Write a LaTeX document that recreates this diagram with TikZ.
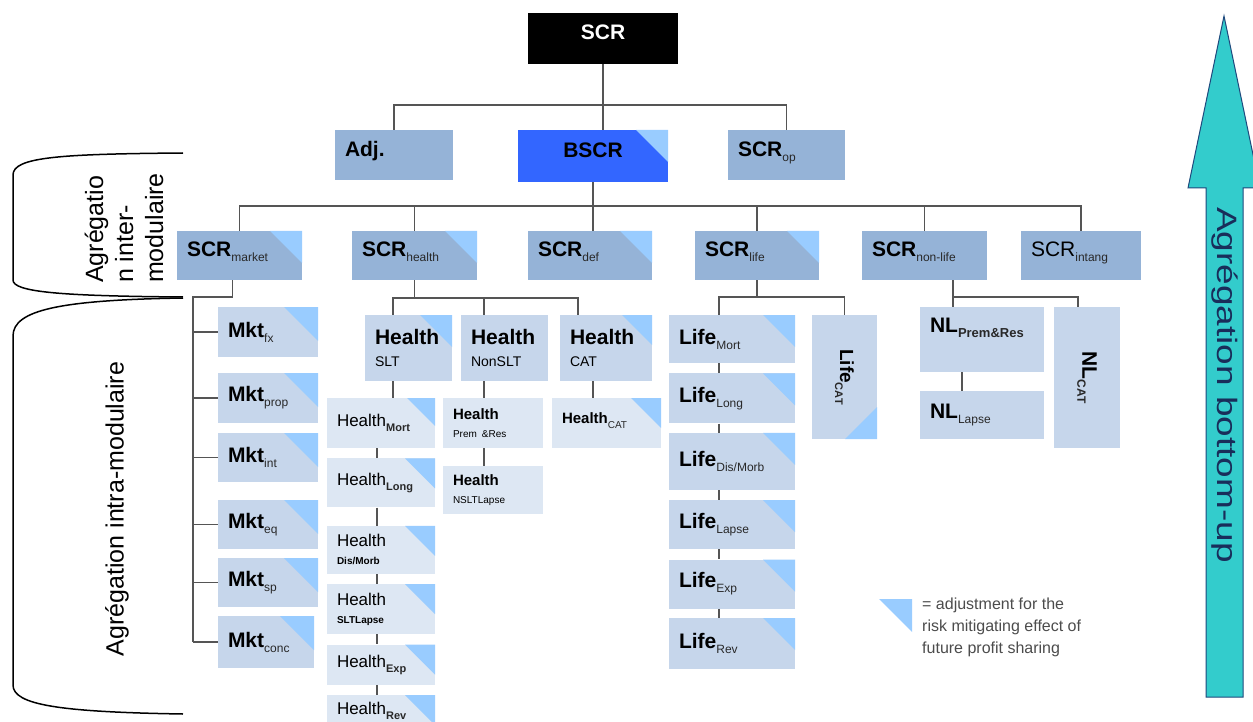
\documentclass[tikz,border=0pt]{standalone}
\usepackage{fontspec}
\setmainfont{Liberation Sans}
\usepackage{tikz}
\usetikzlibrary{positioning}

\definecolor{scrblue}{RGB}{149,179,215}
\definecolor{cellblue}{RGB}{198,214,235}
\definecolor{paleblue}{RGB}{221,231,243}
\definecolor{bscrblue}{RGB}{51,102,255}
\definecolor{fpsblue}{RGB}{153,204,255}
\definecolor{wiregray}{RGB}{85,85,85}
\definecolor{arrowteal}{RGB}{51,204,204}
\definecolor{arrowedge}{RGB}{31,73,125}
\definecolor{arrowtext}{RGB}{25,45,90}
\definecolor{subgray}{RGB}{40,40,40}

\newcommand{\subtx}[2][12]{\raisebox{-5pt}{\fontsize{#1}{#1}\selectfont\color{subgray}#2}}

\begin{document}
\begin{tikzpicture}[x=1pt, y=-1pt, node distance=10pt and 10pt,
    cell/.style={rectangle, inner xsep=10pt, inner ysep=0pt, align=left, font=\fontsize{21}{22}\selectfont},
    dims/.style 2 args={text width=#1pt, minimum height=#2pt},
    scrcell/.style={cell, fill=scrblue, text depth=12pt},
    memo/.style={cell, fill=cellblue},
    subcell/.style={cell, fill=paleblue, font=\fontsize{17}{18}\selectfont},
    notecell/.style={cell, fill=paleblue, font=\fontsize{15}{18}\selectfont},
    fps/.style={path picture={\fill[fpsblue] ([xshift=-#1pt]path picture bounding box.north east)
        -- (path picture bounding box.north east) -- ([yshift=-#1pt]path picture bounding box.north east) -- cycle;}},
    fps/.default=32,
    fpslow/.style={path picture={\fill[fpsblue] ([xshift=-32pt]path picture bounding box.south east)
        -- (path picture bounding box.south east) -- ([yshift=32pt]path picture bounding box.south east) -- cycle;}},
    wire/.style={line width=1.3pt, draw=wiregray},
    sidecurve/.style={line width=1.5pt, draw=black},
    sidetext/.style={rotate=90, font=\fontsize{25}{30}\selectfont},
   ]

    \path[use as bounding box, fill=white] (0,0) rectangle (1253,722);

    % top of the tree
    \node (scr)   [cell, fill=black, text=white, align=center, text depth=12pt, dims={130}{51}] at (603,38.5) {\textbf{SCR}};
    \node (adj)   [scrcell, dims={98}{50}] at (394,155) {\textbf{Adj.}};
    \node (bscr)  [cell, fill=bscrblue, fps, align=center, text depth=11pt, dims={130}{52}] at (593,156) {\textbf{BSCR}};
    \node (scrop) [scrcell, dims={97}{50}] at (786.5,155) {\textbf{SCR}\subtx{op}};

    % modules
    \node (scrmarket)  [scrcell, fps, dims={105}{49}] at (239.5,255.5) {\textbf{SCR}\subtx{market}};
    \node (scrhealth)  [scrcell, fps, dims={105}{49}] at (414.5,255.5) {\textbf{SCR}\subtx{health}};
    \node (scrdef)     [scrcell, fps, dims={104}{49}] at (590,255.5) {\textbf{SCR}\subtx{def}};
    \node (scrlife)    [scrcell, fps, dims={104}{49}] at (757,255.5) {\textbf{SCR}\subtx{life}};
    \node (scrnonlife) [scrcell, dims={105}{49}] at (924.5,255.5) {\textbf{SCR}\subtx{non-life}};
    \node (scrintang)  [scrcell, dims={100}{49}] at (1081,255.5) {SCR\subtx{intang}};

    % market
    \node (mktfx)   [memo, fps=34, dims={80}{50}] at (268,332) {\textbf{Mkt}\subtx{fx}};
    \node (mktprop) [memo, fps=34, dims={80}{50}] at (268,398) {\textbf{Mkt}\subtx{prop}};
    \node (mktint)  [memo, fps=34, dims={80}{49}] at (268,457.5) {\textbf{Mkt}\subtx{int}};
    \node (mkteq)   [memo, fps=34, dims={80}{49}] at (268,524.5) {\textbf{Mkt}\subtx{eq}};
    \node (mktsp)   [memo, fps=34, dims={80}{49}] at (268,582.5) {\textbf{Mkt}\subtx{sp}};
    \node (mktconc) [memo, fps=34, dims={76}{52}] at (266,642) {\textbf{Mkt}\subtx{conc}};

    % health
    \node (hslt)  [memo, fps, dims={67}{66}] at (408.5,348) {\textbf{Health}\\{\fontsize{14}{14}\selectfont SLT}};
    \node (hnslt) [memo, dims={67}{66}] at (504.5,348) {\textbf{Health}\\{\fontsize{14}{14}\selectfont NonSLT}};
    \node (hcat)  [memo, fps=30, dims={72}{66}] at (606,348) {\textbf{Health}\\{\fontsize{14}{14}\selectfont CAT}};

    \node (hmort)  [subcell, fps=28, dims={88}{50}] at (381,423) {Health\subtx[11]{\textbf{Mort}}};
    \node (hlong)  [subcell, fps=30, dims={88}{49}, below=of hmort] {Health\subtx[11]{\textbf{Long}}};
    \node (hdis)   [subcell, fps=30, dims={88}{48}, below=18pt of hlong] {Health\\{\fontsize{10}{10}\selectfont\textbf{Dis/Morb}}};
    \node (hlapse) [subcell, fps=30, dims={88}{50}, below=of hdis] {Health\\{\fontsize{10}{10}\selectfont\textbf{SLTLapse}}};
    \node (hexp)   [subcell, fps=30, dims={88}{40}, below=of hlapse] {Health\subtx[11]{\textbf{Exp}}};
    \node (hrev)   [subcell, fps=30, dims={88}{40}, text depth=13pt, below=of hexp] {Health\subtx[11]{\textbf{Rev}}};

    \node (hprem)   [notecell, dims={80}{50}] at (493,423) {\textbf{Health}\\{\fontsize{10}{10}\selectfont Prem \&Res}};
    \node (hnlapse) [notecell, dims={80}{48}] at (493,490) {\textbf{Health}\\{\fontsize{10}{10}\selectfont NSLTLapse}};
    \node (hcatsub) [notecell, fps=30, text depth=10pt, dims={89}{50}] at (606.5,423) {\textbf{Health}\subtx[10]{CAT}};

    % life
    \node (lmort)  [memo, fps, dims={106}{48}] at (732,339) {\textbf{Life}\subtx{Mort}};
    \node (llong)  [memo, fps, dims={106}{50}, below=of lmort] {\textbf{Life}\subtx{Long}};
    \node (ldis)   [memo, fps, dims={106}{57}, below=9pt of llong] {\textbf{Life}\subtx{Dis/Morb}};
    \node (llapse) [memo, fps, dims={106}{49}, below=of ldis] {\textbf{Life}\subtx{Lapse}};
    \node (lexp)   [memo, fps, dims={106}{49}, below=of llapse] {\textbf{Life}\subtx{Exp}};
    \node (lrev)   [memo, fps, dims={106}{51}, below=9pt of lexp] {\textbf{Life}\subtx{Rev}};
    \node (lcat)   [memo, fpslow, align=center, font=\fontsize{19}{20}\selectfont, dims={45}{124}] at (844.5,377) {\rotatebox{-90}{\textbf{Life}\subtx[11]{\textbf{CAT}}}};

    % non-life
    \node (nlprem)  [memo, dims={104}{65}, text depth=28pt] at (982,339.5) {\textbf{NL}\subtx[13]{\textbf{Prem\&Res}}};
    \node (nllapse) [memo, dims={104}{48}] at (982,415) {\textbf{NL}\subtx{Lapse}};
    \node (nlcat)   [memo, align=center, dims={46}{141}] at (1087,377.5) {\rotatebox{-90}{\textbf{NL}\subtx{\textbf{CAT}}}};

    % connectors
    \coordinate (bus1) at (603,105);
    \coordinate (bus2) at (593,206);
    \coordinate (mktbus) at (193,297);
    \coordinate (hbus) at (414.5,298);
    \coordinate (lbus) at (757,297);
    \coordinate (nlbus) at (953,297);

    \draw[wire] (scr.south) -- (scr.south |- bscr.north);
    \draw[wire] (adj.north) |- (bus1) -| (scrop.north);
    \draw[wire] (bscr.south) -- (bscr.south |- scrdef.north);
    \draw[wire] (scrmarket.north) |- (bus2) -| (scrintang.north);
    \draw[wire] (scrhealth.north) -- (scrhealth.north |- bus2)
                (scrlife.north) -- (scrlife.north |- bus2)
                (scrnonlife.north) -- (scrnonlife.north |- bus2);

    \draw[wire] ([xshift=-7pt]scrmarket.south) |- (mktbus) -- (mktbus |- mktconc.west);
    \draw[wire] (mktbus |- mktfx.west) -- (mktfx.west)
                (mktbus |- mktprop.west) -- (mktprop.west)
                (mktbus |- mktint.west) -- (mktint.west)
                (mktbus |- mkteq.west) -- (mkteq.west)
                (mktbus |- mktsp.west) -- (mktsp.west)
                (mktbus |- mktconc.west) -- (mktconc.west);

    \draw[wire] (scrhealth.south) -- (hbus);
    \draw[wire] ([xshift=-15.5pt]hslt.north) |- (hbus) -| ([xshift=-28pt]hcat.north);
    \draw[wire] ([xshift=-20.5pt]hnslt.north) -- ([xshift=-20.5pt]hnslt.north |- hbus);
    \draw[wire] ([xshift=-15.5pt]hslt.south) -- ([xshift=-15.5pt]hslt.south |- hmort.north);
    \draw[wire] ([xshift=-4pt]hmort.south) -- ([xshift=-4pt]hlong.north)
                ([xshift=-4pt]hlong.south) -- ([xshift=-4pt]hdis.north)
                ([xshift=-4pt]hdis.south) -- ([xshift=-4pt]hlapse.north)
                ([xshift=-4pt]hlapse.south) -- ([xshift=-4pt]hexp.north)
                ([xshift=-4pt]hexp.south) -- ([xshift=-4pt]hrev.north);
    \draw[wire] ([xshift=-20.5pt]hnslt.south) -- ([xshift=-20.5pt]hnslt.south |- hprem.north);
    \draw[wire] ([xshift=-9pt]hprem.south) -- ([xshift=-9pt]hnlapse.north);
    \draw[wire] ([xshift=-13pt]hcat.south) -- ([xshift=-13pt]hcat.south |- hcatsub.north);

    \draw[wire] (scrlife.south) -- (lbus);
    \draw[wire] ([xshift=-13pt]lmort.north) |- (lbus) -| (lcat.north);
    \draw[wire] ([xshift=-13pt]lmort.south) -- ([xshift=-13pt]llong.north)
                ([xshift=-13pt]llong.south) -- ([xshift=-13pt]ldis.north)
                ([xshift=-13pt]ldis.south) -- ([xshift=-13pt]llapse.north)
                ([xshift=-13pt]llapse.south) -- ([xshift=-13pt]lexp.north)
                ([xshift=-13pt]lexp.south) -- ([xshift=-13pt]lrev.north);

    \draw[wire] ([xshift=28.5pt]scrnonlife.south) -- ([xshift=-29pt]nlprem.north);
    \draw[wire] (nlbus) -| ([xshift=-9pt]nlcat.north);
    \draw[wire] ([xshift=-20pt]nlprem.south) -- ([xshift=-20pt]nllapse.north);

    % side curves and their texts
    \draw[sidecurve] (183,153) .. controls (60,154) and (13,157) .. (13,175) -- (13,280)
                     .. controls (13,292) and (60,296) .. (183,297);
    \draw[sidecurve] (183,298) .. controls (60,300) and (13,310) .. (13,336) -- (13,685)
                     .. controls (13,705) and (60,712) .. (183,714);
    \node (intertxt) [sidetext, align=left] at (124,228) {Agrégatio\\n inter-\\modulaire};
    \node (intratxt) [sidetext] at (117,509) {Agrégation intra-modulaire};

    % legend
    \fill[fpsblue] (879,599) -- (912,599) -- (912,632) -- cycle;
    \node (legend) [anchor=north west, inner sep=0pt, align=left, text=black!70,
                    font=\fontsize{16}{22}\selectfont] at (922,598) {= adjustment for the\\risk mitigating effect of\\future profit sharing};

    % bottom-up arrow
    \draw[line width=1pt, draw=arrowedge, fill=arrowteal] (1206,697) -- (1206,188) -- (1188,188)
        -- (1224,16) -- (1260,188) -- (1243,188) -- (1243,697) -- cycle;
    \node (bottomup) [rotate=-90, text=arrowtext, font=\fontsize{28}{28}\selectfont] at (1224.5,385)
        {\scalebox{1.32}[1]{Agrégation bottom-up}};
\end{tikzpicture}
\end{document}
